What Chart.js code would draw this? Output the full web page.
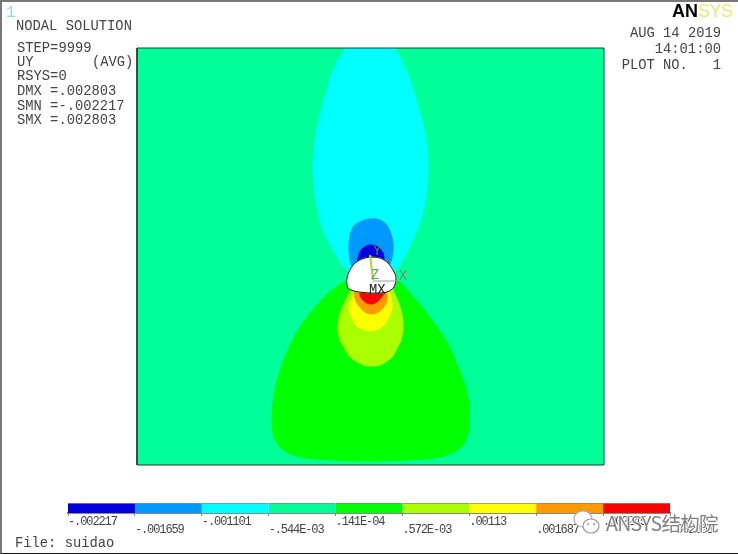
<!DOCTYPE html>
<html>
<head>
<meta charset="utf-8">
<title>NODAL SOLUTION</title>
<script src="https://cdn.jsdelivr.net/npm/chart.js@4/dist/chart.umd.min.js"></script>
<style>
  html, body { margin: 0; padding: 0; background: #fff; overflow: hidden; }
  #page { position: relative; width: 738px; height: 554px; background: #fff; overflow: hidden; }
  #page canvas { position: absolute; display: block; }
  #plot { left: 0; top: 0; }
  #bar { left: 0; top: 490px; }
  #frame { position: absolute; left: 0; top: 0; width: 736px; height: 551px;
    border-top: 2px solid #777; border-left: 2px solid #777; border-bottom: 1px solid #111; }
  .txt { position: absolute; font-family: "Liberation Mono", monospace; font-size: 13.8px;
    line-height: 14px; color: #444; white-space: pre; }
  #wm { position: absolute; left: 606px; top: 511px; font-family: "Noto Sans CJK SC", sans-serif;
    font-size: 19.5px; line-height: 24px; color: #808080; white-space: pre; letter-spacing: -0.7px;
    text-shadow: 1px 0 #fff, -1px 0 #fff, 0 1px #fff, 0 -1px #fff; }
  #logo { position: absolute; left: 672px; top: 0; font-family: "Liberation Sans", sans-serif;
    font-size: 18px; line-height: 22px; font-weight: bold; color: #000; }
  #logo span { color: #efe47c; font-weight: normal; letter-spacing: -0.6px; }
  #wx { position: absolute; left: 572px; top: 509px; }
</style>
</head>
<body>
<div id="page">
  <div id="frame"></div>
  <canvas id="plot" width="738" height="554"></canvas>
  <canvas id="bar" width="738" height="64"></canvas>
  <div id="logo">AN<span>SYS</span></div>
  <svg id="wx" width="30" height="28" viewBox="0 0 30 28">
    <ellipse cx="11" cy="10" rx="9" ry="8" fill="#fff" stroke="#aaa" stroke-width="1.2"/>
    <ellipse cx="19" cy="17" rx="8" ry="7" fill="#fff" stroke="#999" stroke-width="1.2"/>
    <circle cx="16" cy="15" r="1" fill="#999"/>
    <circle cx="22" cy="15" r="1" fill="#999"/>
  </svg>
  <div id="wm">ANSYS结构院</div>
</div>

<script>
'use strict';

// contour levels of UY and their legend labels / colours
let levels = [-0.002217, -0.001659, -0.001101, -0.000544, 0.0000141, 0.000572, 0.00113, 0.001687, 0.002245, 0.002803];
let levelLabels = ['-.002217', '-.001659', '-.001101', '-.544E-03', '.141E-04', '.572E-03', '.00113', '.001687', '.002245', '.002803'];
let bandColors = ['#0000dd', '#0099ff', '#00ffff', '#00ff99', '#00ff00', '#aaff00', '#ffff00', '#ff9900', '#ff0000'];

// model outline, origin at the tunnel axis on the bottom edge
let modelBox = [[-234, 0], [233, 0], [233, 417], [-234, 417], [-234, 0]];

// contour outlines, in the same model units
let plume = [[-26, 417], [-39, 392], [-49, 358], [-56, 325], [-58, 292], [-54, 258], [-49, 238], [-42, 222], [-33, 207], [-24, 195], [-15, 185],
  [15, 185], [25, 195], [33, 207], [41, 224], [48, 240], [53, 258], [57, 292], [55, 325], [47, 358], [36, 392], [24, 417]];
let blueLobe = [[-18, 195], [-21, 205], [-22, 222], [-18, 238], [-9, 244], [-1, 246], [9, 245], [17, 238], [22, 222], [21, 208], [17, 195]];
let darkLobe = [[-13, 200], [-13, 207], [-9, 216], [-1, 220], [7, 218], [12, 212], [13, 207], [13, 200]];
let greenBulb = [[-12, 192], [-27, 183], [-40, 174], [-54, 160], [-71, 138], [-84, 113], [-93, 88], [-98, 62], [-99, 45], [-97, 28], [-88, 15], [-71, 8], [-38, 5], [-1, 4],
  [36, 5], [69, 8], [89, 17], [97, 32], [98, 48], [96, 72], [87, 97], [76, 122], [59, 147], [42, 168], [28, 183], [12, 192]];
let limeBulb = [[-14, 190], [-21, 173], [-29, 157], [-33, 140], [-31, 125], [-26, 116], [-21, 108], [-8, 100], [0, 99], [9, 100], [21, 108], [26, 117], [30, 125], [32, 142], [29, 158], [22, 175], [14, 190]];
let yellowBulb = [[-12, 190], [-17, 172], [-22, 157], [-19, 147], [-13, 138], [-1, 134], [11, 138], [17, 147], [21, 157], [19, 170], [13, 190]];
let orangeBulb = [[-14, 185], [-17, 172], [-14, 162], [-6, 153], [1, 151], [9, 154], [15, 162], [16, 171], [14, 185]];
let redBulb = [[-11, 185], [-11, 170], [-6, 163], [1, 161], [7, 164], [12, 171], [12, 185]];
let tunnel = [[-1, 208], [9, 207], [17, 202], [23, 193], [25, 187], [23, 178], [16, 173], [-1, 172], [-22, 176], [-24, 187], [-18, 200], [-9, 206], [-1, 208]];
let triadY = [[-1, 210], [2, 185]];
let triadX = [[2, 184], [26, 184]];

// text blocks
let infoLines = [
  ['NODAL SOLUTION', 16, 20],
  ['STEP=9999', 17, 42],
  ['UY', 17, 56],
  ['(AVG)', 92, 56],
  ['RSYS=0', 17, 70],
  ['DMX =.002803', 17, 85],
  ['SMN =-.002217', 17, 100],
  ['SMX =.002803', 17, 114],
  ['File: suidao', 15, 537]
];
let stampLines = [['AUG 14 2019', 27], ['14:01:00', 43], ['PLOT NO.   1', 59]];
let triadLabels = [['Y', 373, 245, '#5f7f3f'], ['Z', 371, 269, '#55aa66'], ['X', 399, 270, '#6f8f78'], ['MX', 369, 284, '#222']];

function toPoints(list) {
  let pts = [];
  for (let i = 0; i < list.length; i++) {
    pts.push({ x: list[i][0], y: list[i][1] });
  }
  return pts;
}

function region(list, color, tension) {
  return {
    data: toPoints(list),
    showLine: true,
    fill: 'shape',
    backgroundColor: color,
    borderColor: color,
    borderWidth: 1,
    pointRadius: 0,
    tension: tension
  };
}

function stroke(list, color, width, tension) {
  return {
    data: toPoints(list),
    showLine: true,
    fill: false,
    borderColor: color,
    borderWidth: width,
    pointRadius: 0,
    tension: tension || 0
  };
}

// listed bottom to top, chart.js paints the first dataset last
let layers = [
  region(modelBox, bandColors[3], 0),
  region(plume, bandColors[2], 0.35),
  region(blueLobe, bandColors[1], 0.35),
  region(darkLobe, bandColors[0], 0.35),
  region(greenBulb, bandColors[4], 0.35),
  region(limeBulb, bandColors[5], 0.35),
  region(yellowBulb, bandColors[6], 0.35),
  region(orangeBulb, bandColors[7], 0.35),
  region(redBulb, bandColors[8], 0.35),
  region(tunnel, '#ffffff', 0.3),
  stroke(tunnel, '#111111', 1, 0.3),
  stroke(triadY, '#a8d838', 2),
  stroke(triadX, '#9aa0a0', 1),
  stroke(modelBox, '#1c3a2c', 1)
];
layers[layers.length - 1].clip = false;
layers.reverse();

new Chart(document.getElementById('plot').getContext('2d'), {
  type: 'scatter',
  data: { datasets: layers },
  options: {
    responsive: false,
    animation: false,
    layout: { padding: { left: 137, right: 134, top: 48, bottom: 89 } },
    plugins: { legend: { display: false }, tooltip: { enabled: false } },
    scales: {
      x: { type: 'linear', display: false, min: -234, max: 233 },
      y: { type: 'linear', display: false, min: 0, max: 417 }
    }
  }
});

// colour key under the plot
let bands = [];
for (let i = 0; i < bandColors.length; i++) {
  bands.push({
    data: [[levels[i], levels[i + 1]]],
    backgroundColor: bandColors[i],
    borderColor: '#888',
    borderWidth: { top: 1, left: 0, right: 0, bottom: 0 },
    borderSkipped: false,
    grouped: false,
    barPercentage: 1,
    categoryPercentage: 1
  });
}

// the ansys key font is narrow for its height
let tightText = {
  id: 'tightText',
  beforeDraw: function (chart) { chart.ctx.letterSpacing = '-1.1px'; }
};

new Chart(document.getElementById('bar').getContext('2d'), {
  type: 'bar',
  data: { labels: ['UY'], datasets: bands },
  plugins: [tightText],
  options: {
    indexAxis: 'y',
    responsive: false,
    animation: false,
    layout: { padding: { left: 68, right: 68, top: 13, bottom: 0 } },
    plugins: { legend: { display: false }, tooltip: { enabled: false } },
    scales: {
      y: { display: false },
      x: {
        type: 'linear',
        min: levels[0],
        max: levels[levels.length - 1],
        afterBuildTicks: function (scale) {
          scale.ticks = levels.map(function (v) { return { value: v }; });
        },
        afterFit: function (scale) { scale.height = 41; },
        grid: { drawOnChartArea: false, color: '#888', tickLength: 3 },
        border: { color: '#888', width: 2 },
        ticks: {
          autoSkip: false,
          maxRotation: 0,
          align: 'start',
          padding: 2,
          color: '#444',
          font: { family: '"Liberation Mono", monospace', size: 12, lineHeight: '8px' },
          callback: function (value, index) {
            return index % 2 ? ['', levelLabels[index]] : levelLabels[index];
          }
        }
      }
    }
  }
});

// ansys annotation text
let page = document.getElementById('page');

function addText(str, x, y, color) {
  let div = document.createElement('div');
  div.className = 'txt';
  div.textContent = str;
  div.style.left = x + 'px';
  div.style.top = y + 'px';
  if (color) div.style.color = color;
  page.insertBefore(div, document.getElementById('wx'));
  return div;
}

infoLines.forEach(function (l) { addText(l[0], l[1], l[2]); });
stampLines.forEach(function (l) {
  let d = addText(l[0], 0, l[1]);
  d.style.left = 'auto';
  d.style.right = '17px';
});
triadLabels.forEach(function (l) { addText(l[0], l[1], l[2], l[3]); });
addText('1', 6, 6, '#86e0dc').style.fontSize = '16px';
</script>
</body>
</html>
